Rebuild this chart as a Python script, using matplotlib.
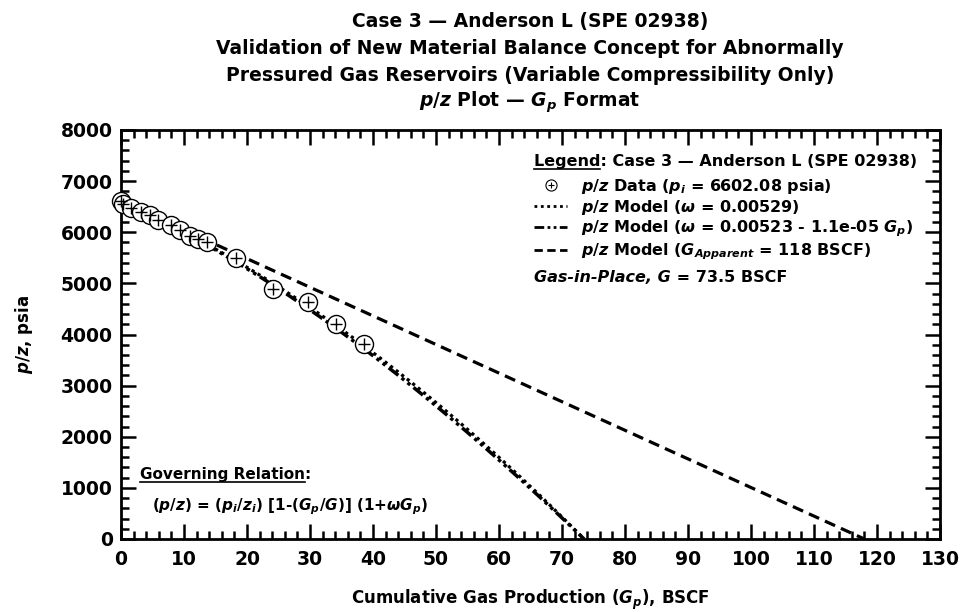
import numpy as np
import matplotlib
matplotlib.use("Agg")
import matplotlib.pyplot as plt
from matplotlib.lines import Line2D
from matplotlib.ticker import MultipleLocator

plt.rcParams['font.family'] = 'DejaVu Sans'
plt.rcParams['font.weight'] = 'bold'
plt.rcParams['axes.labelweight'] = 'bold'
plt.rcParams['mathtext.fontset'] = 'custom'
plt.rcParams['mathtext.rm'] = 'DejaVu Sans:bold'
plt.rcParams['mathtext.it'] = 'DejaVu Sans:italic:bold'
plt.rcParams['mathtext.bf'] = 'DejaVu Sans:bold'

# Anderson L field data: cumulative production (BSCF) and p/z (psia)
gp_data = [0.0, 0.39, 1.64, 3.23, 4.60, 5.90, 7.90, 9.30, 11.00, 12.20, 13.60,
           18.20, 24.20, 29.70, 34.20, 38.60]
pz_data = [6602.08, 6551, 6468, 6393, 6329, 6246, 6136, 6047, 5924, 5860, 5811,
           5503, 4892, 4637, 4212, 3807]

p_i = 6602.08          # psia
G = 73.5               # gas-in-place, BSCF
omega_const = 0.00529
omega_a = 0.00523
omega_b = 1.1e-05
G_apparent = 118.0     # BSCF

x_ticks = np.arange(0, 131, 10)
y_ticks = np.arange(0, 8001, 1000)

# model curves from the governing relation
gp_model = np.linspace(0, G, 300)
pz_const = p_i * (1 - gp_model / G) * (1 + omega_const * gp_model)
pz_var = p_i * (1 - gp_model / G) * (1 + (omega_a - omega_b * gp_model) * gp_model)
gp_lin = [0.0, G_apparent]
pz_lin = [p_i, 0.0]

fig = plt.figure(figsize=(9.62, 6.12), dpi=100)
ax = fig.add_axes([121 / 962, 1 - 539 / 612, 819 / 962, 409 / 612])

ax.plot(gp_lin, pz_lin, color='black', lw=2.3, dashes=(3.5, 2.0), zorder=2)
ax.plot(gp_model, pz_const, color='black', lw=2.3, dashes=(1.0, 1.2), zorder=2)
ax.plot(gp_model, pz_var, color='black', lw=2.5, dashes=(3.5, 1.2, 1.0, 1.2, 1.0, 1.2), zorder=2)
ax.plot(gp_data, pz_data, 'o', ms=13, mfc='white', mec='black', mew=1.0, zorder=4,
        clip_on=False)
ax.plot(gp_data, pz_data, '+', ms=8, color='black', mew=1.0, zorder=5, clip_on=False)

ax.set_xlim(0, 130)
ax.set_ylim(0, 8000)
ax.set_xticks(x_ticks)
ax.set_yticks(y_ticks)
ax.xaxis.set_minor_locator(MultipleLocator(2))
ax.yaxis.set_minor_locator(MultipleLocator(200))
ax.tick_params(which='both', direction='in', top=True, right=True, width=1.8)
ax.tick_params(which='major', length=10.5, labelsize=13.5)
ax.tick_params(axis='x', which='major', pad=8)
ax.tick_params(axis='y', which='major', pad=6)
ax.tick_params(which='minor', length=5.5)
for sp in ax.spines.values():
    sp.set_linewidth(2.0)

ax.set_xlabel(r'Cumulative Gas Production ($G_p$), BSCF', fontsize=12)
ax.set_ylabel(r'$p/z$, psia', fontsize=12)
ax.xaxis.set_label_coords(0.5, -0.12)
ax.yaxis.set_label_coords(-0.105, 0.5)

titles = [r'Case 3 — Anderson L (SPE 02938)',
          r'Validation of New Material Balance Concept for Abnormally',
          r'Pressured Gas Reservoirs (Variable Compressibility Only)',
          r'$p/z$ Plot — $G_p$ Format']
for i, line in enumerate(titles):
    fig.text(530 / 962, 1 - (22 + 26.7 * i) / 612, line, ha='center', va='center',
             fontsize=13.5)

# legend entries
h_data = (Line2D([], [], marker='o', ls='none', ms=8, mfc='white', mec='black', mew=0.8),
          Line2D([], [], marker='+', ls='none', ms=5, color='black', mew=0.8))
h_const = Line2D([], [], color='black', lw=2.0, dashes=(1.0, 1.3))
h_var = Line2D([], [], color='black', lw=2.0, dashes=(3.5, 1.2, 1.0, 1.2, 1.0, 1.2))
h_lin = Line2D([], [], color='black', lw=2.0, dashes=(3.0, 1.6))
labels = [r'$p/z$ Data ($p_i$ = 6602.08 psia)',
          r'$p/z$ Model ($\omega$ = 0.00529)',
          r'$p/z$ Model ($\omega$ = 0.00523 - 1.1e-05 $G_p$)',
          r'$p/z$ Model ($G_{Apparent}$ = 118 BSCF)']
leg = ax.legend([h_data, h_const, h_var, h_lin], labels, loc='upper left',
                bbox_to_anchor=(0.504, 0.885), frameon=False, fontsize=11.5,
                handlelength=2.1, handletextpad=0.85, labelspacing=0.12,
                borderpad=0, borderaxespad=0)

renderer = fig.canvas.get_renderer()


def text_width(x, y, s, size, **kw):
    probe = ax.text(x, y, s, transform=ax.transAxes, ha='left', va='baseline',
                    fontsize=size, alpha=0, **kw)
    bb = probe.get_window_extent(renderer=renderer)
    probe.remove()
    return bb


def underlined(x, y, full, part, size):
    ax.text(x, y, full, transform=ax.transAxes, ha='left', va='baseline', fontsize=size)
    bb = text_width(x, y, part, size)
    xb, yb = ax.transAxes.transform((x, y))
    inv = ax.transAxes.inverted()
    p0 = inv.transform((bb.x0, yb - 3))
    p1 = inv.transform((bb.x1, yb - 3))
    ax.plot([p0[0], p1[0]], [p0[1], p1[1]], transform=ax.transAxes, color='black',
            lw=1.2, clip_on=False)


underlined(0.504, 0.912, r'Legend: Case 3 — Anderson L (SPE 02938)', 'Legend', 11.5)

# italic name followed by upright value
gip_x, gip_y = 0.504, 0.628
ax.text(gip_x, gip_y, 'Gas-in-Place, G', transform=ax.transAxes, ha='left',
        va='baseline', fontsize=11.5, style='italic')
bb = text_width(gip_x, gip_y, 'Gas-in-Place, G', 11.5, style='italic')
x_after = ax.transAxes.inverted().transform((bb.x1, 0))[0]
ax.text(x_after, gip_y, ' = 73.5 BSCF', transform=ax.transAxes, ha='left',
        va='baseline', fontsize=11.5)

underlined(0.023, 0.146, r'Governing Relation:', 'Governing Relation', 11)
ax.text(0.038, 0.071, r'($p/z$) = ($p_i$/$z_i$) [1-($G_p$/$G$)] (1+$\omega G_p$)',
        transform=ax.transAxes, ha='left', va='baseline', fontsize=11)

fig.savefig('out.png', dpi=100)
